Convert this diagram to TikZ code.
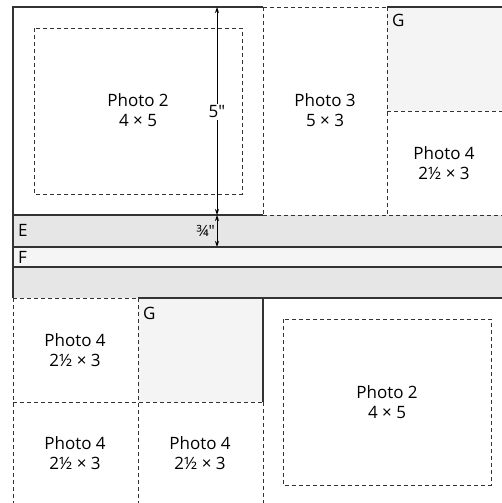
\documentclass[tikz,border=0pt]{standalone}
\usepackage{fontspec}
\newfontfamily\labelfont{Open Sans}
\usetikzlibrary{arrows.meta}
\definecolor{lineC}{HTML}{333333}
\definecolor{bandD}{HTML}{E6E6E6}
\definecolor{bandL}{HTML}{F5F5F5}
\definecolor{gfill}{HTML}{F4F4F4}
\tikzset{
  solidln/.style={draw=lineC, line width=1.2pt},
  dashln/.style={draw=lineC, line width=0.9pt, dash pattern=on 4pt off 3pt},
  lbl/.style={font=\labelfont\fontsize{17}{20.5}\selectfont, align=center, text=black, inner sep=0pt},
  letter/.style={font=\labelfont\fontsize{17}{20}\selectfont, text=black, inner sep=0pt, anchor=west},
  dimarrow/.style={draw=black, line width=0.9pt, {Stealth[length=6pt,width=4pt]}-{Stealth[length=6pt,width=4pt]}}
}
\begin{document}
\begin{tikzpicture}[x=1pt,y=-1pt]
\useasboundingbox (0,0) rectangle (502,503);
% fills
\fill[bandD] (13,215) rectangle (502,247);
\fill[bandL] (13,247) rectangle (502,267);
\fill[bandD] (13,267) rectangle (502,298);
\fill[gfill] (387,7) rectangle (502,111);
\fill[gfill] (138,298) rectangle (263,402);
% coordinates
\coordinate (tl) at (13,7);
\coordinate (t1) at (263,7);
\coordinate (t2) at (387,7);
\coordinate (tr) at (502,7);
\coordinate (eL) at (13,215);
\coordinate (eM) at (263,215);
\coordinate (eR) at (502,215);
\coordinate (fL) at (13,247);
\coordinate (fR) at (502,247);
\coordinate (gL) at (13,267);
\coordinate (gR) at (502,267);
\coordinate (hL) at (13,298);
\coordinate (hM) at (138,298);
\coordinate (hM2) at (263,298);
\coordinate (hR) at (502,298);
\coordinate (gbR) at (502,111);
\coordinate (gbL) at (387,111);
\coordinate (p3b) at (263,215);
\coordinate (p4b) at (387,215);
\coordinate (bL) at (13,503);
\coordinate (bM) at (138,503);
\coordinate (bM2) at (263,503);
\coordinate (rL) at (13,402);
\coordinate (rM) at (263,402);
\coordinate (aTop) at (217,7);
\coordinate (aMid) at (217,215);
\coordinate (aBot) at (217,247);
% solid lines
\draw[solidln] (t1) -- (tl) -- (hL);
\draw[solidln] (t2) -- (tr);
\draw[solidln] (eL) -- (eM);
\draw[solidln] (fL) -- (fR);
\draw[solidln] (gL) -- (gR);
\draw[solidln] (hM) -- (hR);
\draw[solidln] (hM2) -- (rM);
% dashed lines
\draw[dashln] (t1) -- (t2);
\draw[dashln] (t1) -- (p3b);
\draw[dashln] (t2) -- (p4b);
\draw[dashln] (gbL) -- (gbR);
\draw[dashln] (eM) -- (eR);
\draw[dashln] (hL) -- (hM);
\draw[dashln] (hL) -- (bL);
\draw[dashln] (hM) -- (bM);
\draw[dashln] (rL) -- (rM);
\draw[dashln] (rM) -- (bM2);
\draw[dashln] (34,28) rectangle (242,194);
\draw[dashln] (283,319) rectangle (491,485);
% dimension arrows
\draw[dimarrow] (aTop) -- (aMid);
\draw[dimarrow] (aMid) -- (aBot);
\node[lbl, fill=white, inner sep=2pt] (d5) at (217,112) {5"};
\node[font=\labelfont\fontsize{15.5}{17}\selectfont, text=black, inner sep=0pt, anchor=east] (d34) at (215,231) {¾"};
% labels
\node[lbl] (ph2a) at (138,110) {Photo 2\\4 × 5};
\node[lbl] (ph3) at (325,110) {Photo 3\\5 × 3};
\node[lbl] (ph4a) at (444,163) {Photo 4\\2½ × 3};
\node[letter] (ga) at (392,20) {G};
\node[letter] (le) at (18,230) {E};
\node[letter] (lf) at (18,257) {F};
\node[letter] (gb) at (143,313) {G};
\node[lbl] (ph4b) at (75,350) {Photo 4\\2½ × 3};
\node[lbl] (ph4c) at (75,453) {Photo 4\\2½ × 3};
\node[lbl] (ph4d) at (200,453) {Photo 4\\2½ × 3};
\node[lbl] (ph2b) at (387,402) {Photo 2\\4 × 5};
\end{tikzpicture}
\end{document}
